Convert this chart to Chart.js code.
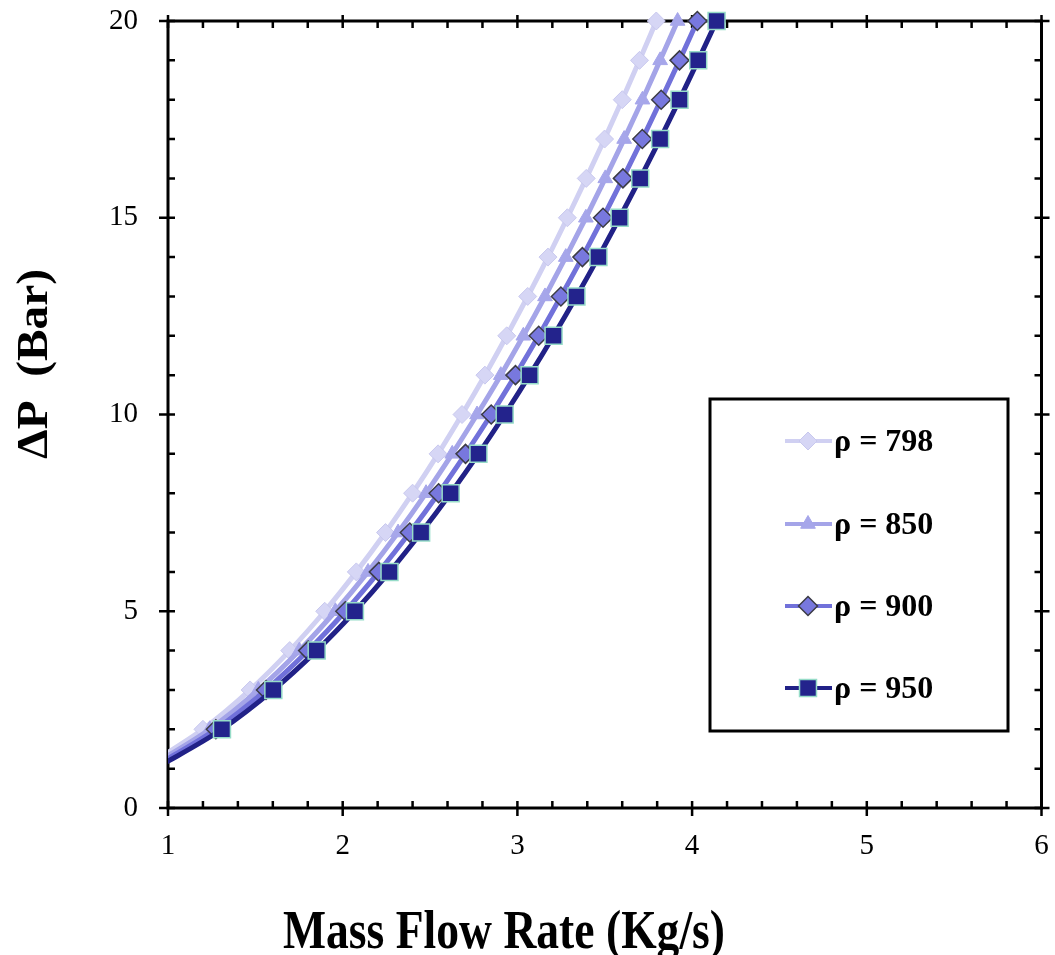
<!DOCTYPE html>
<html>
<head>
<meta charset="utf-8">
<script src="https://cdn.jsdelivr.net/npm/chart.js@4/dist/chart.umd.min.js"></script>
<style>
  html, body { margin: 0; padding: 0; background: #fff; }
  #wrap { width: 1055px; height: 955px; position: relative; }
</style>
</head>
<body>
<div id="wrap"><canvas id="chart"></canvas></div>
<script>
// pressure drop (Bar) at each marker, and mass flow rate (Kg/s) read for each density
const pressureDrop = [1, 2, 3, 4, 5, 6, 7, 8, 9, 10, 11, 12, 13, 14, 15, 16, 17, 18, 19, 20];
const flow798 = [0.849, 1.200, 1.470, 1.697, 1.897, 2.078, 2.245, 2.400, 2.546, 2.683, 2.814, 2.939, 3.059, 3.175, 3.286, 3.394, 3.499, 3.600, 3.699, 3.795];
const flow850 = [0.876, 1.239, 1.517, 1.752, 1.958, 2.145, 2.317, 2.477, 2.627, 2.769, 2.905, 3.034, 3.158, 3.277, 3.392, 3.503, 3.611, 3.716, 3.817, 3.917];
const flow900 = [0.901, 1.274, 1.561, 1.802, 2.015, 2.207, 2.384, 2.549, 2.703, 2.850, 2.989, 3.122, 3.249, 3.372, 3.490, 3.604, 3.715, 3.823, 3.928, 4.030];
const flow950 = [0.926, 1.309, 1.603, 1.851, 2.070, 2.268, 2.449, 2.618, 2.777, 2.927, 3.070, 3.207, 3.338, 3.464, 3.585, 3.703, 3.817, 3.928, 4.035, 4.140];
const seriesLabels = ['ρ = 798', 'ρ = 850', 'ρ = 900', 'ρ = 950'];
const xTitle = 'Mass Flow Rate (Kg/s)';
const yTitle = 'ΔP  (Bar)';

const SERIF = "'Times New Roman', 'Liberation Serif', serif";

const styles = [
  { line: 'rgb(208,208,242)', fill: 'rgb(214,214,245)', border: 'rgb(200,200,238)', shape: 'rectRot', r: 9, bw: 1 },
  { line: 'rgb(164,164,232)', fill: 'rgb(166,166,234)', border: 'rgb(166,166,234)', shape: 'triangle', r: 8.5, bw: 1 },
  { line: 'rgb(113,113,218)', fill: 'rgb(120,120,222)', border: 'rgb(60,60,70)', shape: 'rectRot', r: 9.5, bw: 1.5 },
  { line: 'rgb(33,33,135)', fill: 'rgb(35,35,140)', border: 'rgb(150,220,200)', shape: 'rect', r: 12, bw: 1.5 }
];
const flows = [flow798, flow850, flow900, flow950];

const datasets = flows.map((flow, i) => ({
  label: seriesLabels[i],
  data: flow.map((m, j) => ({ x: m, y: pressureDrop[j] })),
  borderColor: styles[i].line,
  backgroundColor: styles[i].fill,
  borderWidth: 5,
  pointStyle: styles[i].shape,
  pointRadius: ctx => (ctx.dataIndex === 0 ? 0 : styles[i].r),
  pointBackgroundColor: styles[i].fill,
  pointBorderColor: styles[i].border,
  pointBorderWidth: styles[i].bw,
  cubicInterpolationMode: 'monotone',
  order: 3 - i,
  clip: { left: 0, top: 14, right: 0, bottom: 0 }
}));

// frame with inward minor ticks and crossing major ticks, on all four sides
const framePlugin = {
  id: 'frame',
  beforeDatasetsDraw(chart) {
    const { ctx, chartArea: a, scales: { x, y } } = chart;
    ctx.save();
    ctx.strokeStyle = '#000';
    ctx.lineWidth = 3;
    ctx.strokeRect(a.left, a.top, a.right - a.left, a.bottom - a.top);
    ctx.lineWidth = 2.5;
    ctx.beginPath();
    for (let k = 0; k <= 25; k++) {
      const px = x.getPixelForValue(1 + k * 0.2);
      const major = k % 5 === 0;
      ctx.moveTo(px, a.bottom + (major ? 8 : 0));
      ctx.lineTo(px, a.bottom - 7);
      ctx.moveTo(px, a.top - (major ? 6 : 0));
      ctx.lineTo(px, a.top + 7);
    }
    for (let k = 0; k <= 20; k++) {
      const py = y.getPixelForValue(k);
      const major = k % 5 === 0;
      ctx.moveTo(a.left - (major ? 9 : 0), py);
      ctx.lineTo(a.left + 7, py);
      ctx.moveTo(a.right + (major ? 8 : 0), py);
      ctx.lineTo(a.right - 7, py);
    }
    ctx.stroke();
    ctx.restore();
  },
  afterDraw(chart) {
    const ctx = chart.ctx;
    ctx.save();
    ctx.fillStyle = '#000';

    // x title, condensed look
    ctx.font = 'bold 46px ' + SERIF;
    ctx.textAlign = 'center';
    ctx.textBaseline = 'alphabetic';
    let w = ctx.measureText(xTitle).width;
    ctx.save();
    ctx.translate(504, 948);
    ctx.scale(442 / w, 1.18);
    ctx.fillText(xTitle, 0, 0);
    ctx.restore();

    // y title, rotated
    ctx.font = 'bold 45px ' + SERIF;
    w = ctx.measureText(yTitle).width;
    ctx.save();
    ctx.translate(47, 364);
    ctx.rotate(-Math.PI / 2);
    ctx.scale(190 / w, 1);
    ctx.fillText(yTitle, 0, 0);
    ctx.restore();

    // legend box
    ctx.strokeStyle = '#000';
    ctx.lineWidth = 3;
    ctx.strokeRect(710, 399, 298, 332);
    const rowY = [441, 524, 606, 688];
    ctx.font = 'bold 32px ' + SERIF;
    ctx.textAlign = 'left';
    ctx.textBaseline = 'middle';
    chart.data.datasets.forEach((ds, i) => {
      const cy = rowY[i];
      ctx.strokeStyle = ds.borderColor;
      ctx.lineWidth = 4;
      ctx.beginPath();
      ctx.moveTo(785, cy);
      ctx.lineTo(832, cy);
      ctx.stroke();
      ctx.fillStyle = ds.pointBackgroundColor;
      ctx.strokeStyle = ds.pointBorderColor;
      ctx.lineWidth = ds.pointBorderWidth;
      Chart.helpers.drawPoint(ctx, { pointStyle: ds.pointStyle, radius: styles[i].r, rotation: 0, borderWidth: ds.pointBorderWidth }, 808, cy);
      ctx.fillStyle = '#000';
      ctx.fillText(ds.label, 834, cy + 2);
    });
    ctx.restore();
  }
};

new Chart(document.getElementById('chart'), {
  type: 'line',
  data: { datasets },
  plugins: [framePlugin],
  options: {
    responsive: true,
    maintainAspectRatio: false,
    animation: false,
    layout: { padding: { left: 0, top: 21, right: 13, bottom: 0 } },
    plugins: {
      legend: { display: false },
      tooltip: { enabled: false }
    },
    scales: {
      x: {
        type: 'linear',
        min: 1,
        max: 6,
        grid: { display: false, drawTicks: false },
        border: { display: false },
        ticks: { stepSize: 1, color: '#000', padding: 21, font: { family: SERIF, size: 29 } },
        afterFit(scale) {
          scale.height = 147;
          scale.paddingLeft = 0;
          scale.paddingRight = 0;
        }
      },
      y: {
        min: 0,
        max: 20,
        grid: { display: false, drawTicks: false },
        border: { display: false },
        ticks: { stepSize: 5, color: '#000', padding: 30, font: { family: SERIF, size: 29 } },
        afterFit(scale) {
          scale.width = 168;
          scale.paddingTop = 0;
          scale.paddingBottom = 0;
        }
      }
    }
  }
});
</script>
</body>
</html>
